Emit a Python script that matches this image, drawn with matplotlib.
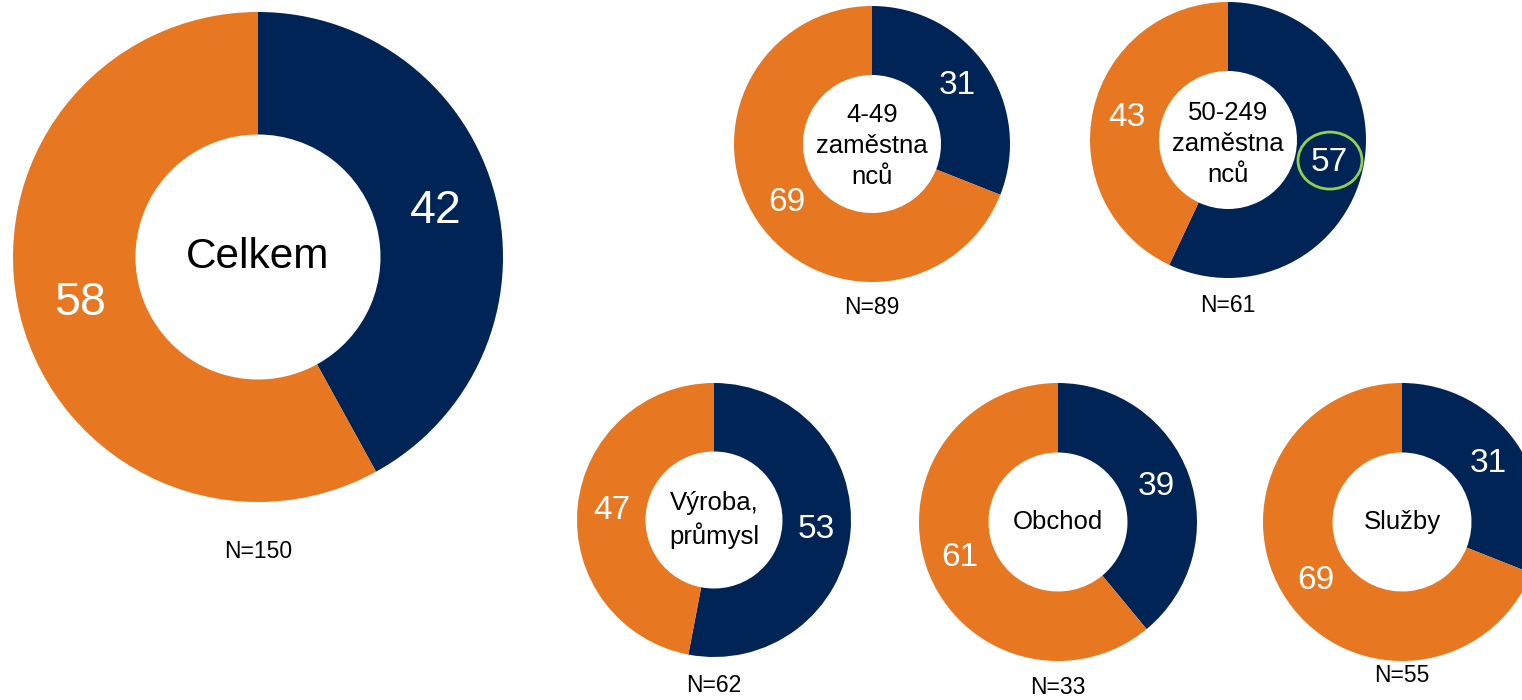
import numpy as np
import matplotlib
matplotlib.use("Agg")
import matplotlib.pyplot as plt
from matplotlib.patches import Ellipse

plt.rcParams['font.family'] = ['Liberation Sans', 'DejaVu Sans']

# Data
groups = ["Celkem", "4-49\nzaměstna\nnců", "50-249\nzaměstna\nnců",
          "Výroba,\nprůmysl", "Obchod", "Služby"]
navy_vals = [42, 31, 57, 53, 39, 31]
orange_vals = [58, 69, 43, 47, 61, 69]
n_labels = ["N=150", "N=89", "N=61", "N=62", "N=33", "N=55"]
highlight = [False, False, True, False, False, False]

NAVY = "#012456"
ORANGE = "#E87722"
GREEN = "#92D050"

W, H = 1522, 700
fig = plt.figure(figsize=(W / 100, H / 100), dpi=100)
ax = fig.add_axes([0, 0, 1, 1])
ax.set_xlim(0, W)
ax.set_ylim(0, H)
ax.set_aspect('equal')
ax.axis('off')

# layout (pixel coords from top-left)
centers = [(258, 257), (872, 144), (1228, 140), (714, 520), (1058, 522), (1402, 522)]
radii = [245, 138, 138, 137, 139, 139]
n_pos = [(258, 552), (872, 308), (1228, 306), (714, 685), (1058, 688), (1402, 676)]
text_dy = [0, 2, 4, 0, 0, 0]
center_fs = [30.5, 18.5, 18.5, 18.5, 18.5, 18.5]
pct_fs = [33.5, 24, 24, 24, 24, 24]

for i in range(len(groups)):
    cx, cy = centers[i]
    cy = H - cy
    r = radii[i]
    vals = [navy_vals[i], orange_vals[i]]
    wedges, _ = ax.pie(vals, colors=[NAVY, ORANGE], startangle=90,
                       counterclock=False, radius=r, center=(cx, cy),
                       wedgeprops=dict(width=r * 0.5, linewidth=0),
                       frame=True)
    for w, v, is_navy in zip(wedges, vals, [True, False]):
        ang = np.deg2rad((w.theta1 + w.theta2) / 2)
        lx = cx + 0.75 * r * np.cos(ang)
        ly = cy + 0.75 * r * np.sin(ang)
        ax.text(lx, ly, str(v), color='white', fontsize=pct_fs[i],
                ha='center', va='center')
        if is_navy and highlight[i]:
            ax.add_patch(Ellipse((lx + 1, ly + 2), 64, 57, fill=False,
                                 edgecolor=GREEN, linewidth=2, zorder=5))
    ax.text(cx, cy - text_dy[i], groups[i], fontsize=center_fs[i],
            ha='center', va='center', color='black', linespacing=1.35)
    nx, ny = n_pos[i]
    ax.text(nx, H - ny, n_labels[i], fontsize=16.5, ha='center',
            va='center', color='black')

ax.set_xlim(0, W)
ax.set_ylim(0, H)
ax.axis('off')
fig.savefig("out.png", dpi=100)
